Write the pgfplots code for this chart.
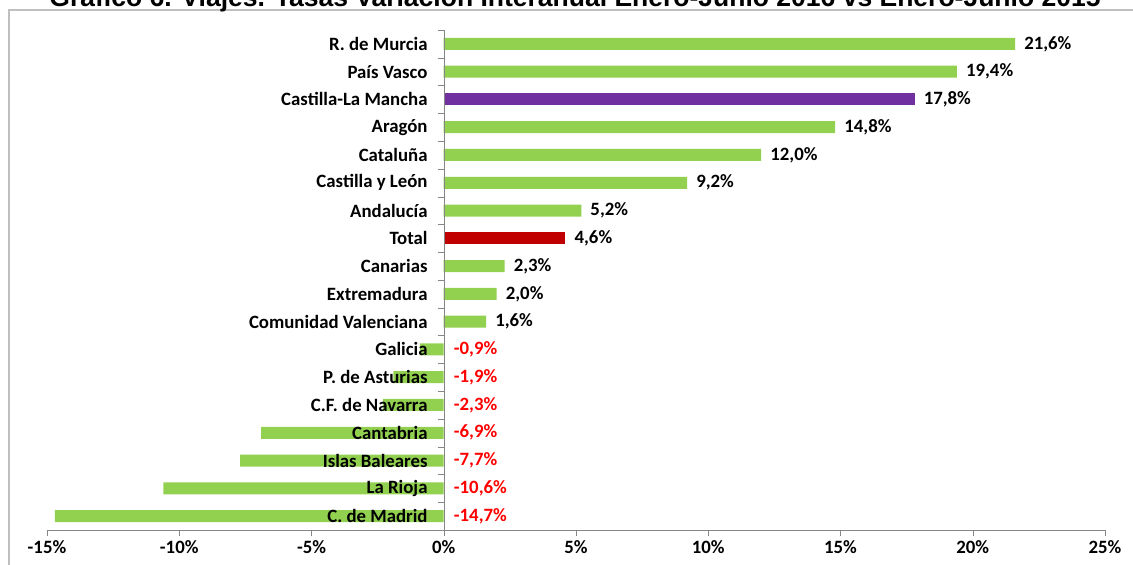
\documentclass[border=0pt]{standalone}
\usepackage{pgfplots}
\pgfplotsset{compat=1.18}
\usepackage{fontspec}
\setmainfont{Carlito}
\newfontfamily\titlefont{Liberation Sans}
\definecolor{vgreen}{HTML}{92D050}
\definecolor{vpurple}{HTML}{7030A0}
\definecolor{vred}{HTML}{C00000}
\definecolor{axgray}{HTML}{868686}
\newcommand{\lbl}{\bfseries\fontsize{18.8}{22}\selectfont}
\begin{document}
\begin{tikzpicture}[x=1pt,y=1pt]
\useasboundingbox (0,0) rectangle (1133,565);
\draw[color=black!25, line width=1.3pt] (9,-20) -- (9,555) -- (1150,555);
\node[anchor=base, inner sep=0pt, font=\titlefont\bfseries\fontsize{26.5}{28}\selectfont] at (575,558) {Gráfico 6. Viajes. Tasas Variación Interanual Enero-Junio 2016 vs Enero-Junio 2015};
\begin{axis}[
  at={(47pt,35pt)}, anchor=south west,
  scale only axis, width=1058pt, height=500pt,
  xmin=-15, xmax=25, ymin=-0.5, ymax=17.5,
  axis x line=bottom, axis y line=center,
  x axis line style={-, axgray}, y axis line style={-, axgray},
  xtick={-15,-10,...,25},
  xticklabel={\pgfmathprintnumber{\tick}\%},
  /pgf/number format/assume math mode=true,
  xtick align=outside, major x tick style={axgray},
  major tick length=6pt,
  xticklabel style={font=\lbl, yshift=-1pt},
  ytick={0,...,17},
  yticklabels={C. de Madrid, La Rioja, Islas Baleares, Cantabria, C.F. de Navarra, P. de Asturias, Galicia, Comunidad Valenciana, Extremadura, Canarias, Total, Andalucía, Castilla y León, Cataluña, Aragón, Castilla-La Mancha, País Vasco, R. de Murcia},
  major y tick style={draw=none},
  minor ytick={-0.5,0.5,...,17.5},
  minor y tick style={axgray},
  minor tick length=6pt,
  ytick align=outside,
  yticklabel style={font=\lbl, anchor=east, inner sep=0pt, xshift=-10pt},
  axis on top,
  clip=false,
]
\addplot[xbar, bar width=12pt, bar shift=0pt, fill=vgreen, draw=none] coordinates {
 (-14.7,0) (-10.6,1) (-7.7,2) (-6.9,3) (-2.3,4) (-1.9,5) (-0.9,6) (1.6,7) (2.0,8) (2.3,9) (5.2,11) (9.2,12) (12.0,13) (14.8,14) (19.4,16) (21.6,17)};
\addplot[xbar, bar width=12pt, bar shift=0pt, fill=vred, draw=none] coordinates {(4.6,10)};
\addplot[xbar, bar width=12pt, bar shift=0pt, fill=vpurple, draw=none] coordinates {(17.8,15)};
% value labels (positive)
\addplot[draw=none, mark=none, nodes near coords, point meta=explicit symbolic,
  nodes near coords style={anchor=west, inner sep=0pt, xshift=9pt, black, font=\lbl}]
 table[meta=lab] {
x y lab
1.6 7 1,6\%
2.0 8 2,0\%
2.3 9 2,3\%
4.6 10 4,6\%
5.2 11 5,2\%
9.2 12 9,2\%
12.0 13 12,0\%
14.8 14 14,8\%
17.8 15 17,8\%
19.4 16 19,4\%
21.6 17 21,6\%
};
% value labels (negative)
\addplot[draw=none, mark=none, nodes near coords, point meta=explicit symbolic,
  nodes near coords style={anchor=west, inner sep=0pt, xshift=10pt, red, font=\lbl}]
 table[meta=lab] {
x y lab
0 0 -14,7\%
0 1 -10,6\%
0 2 -7,7\%
0 3 -6,9\%
0 4 -2,3\%
0 5 -1,9\%
0 6 -0,9\%
};
\end{axis}
\end{tikzpicture}
\end{document}
